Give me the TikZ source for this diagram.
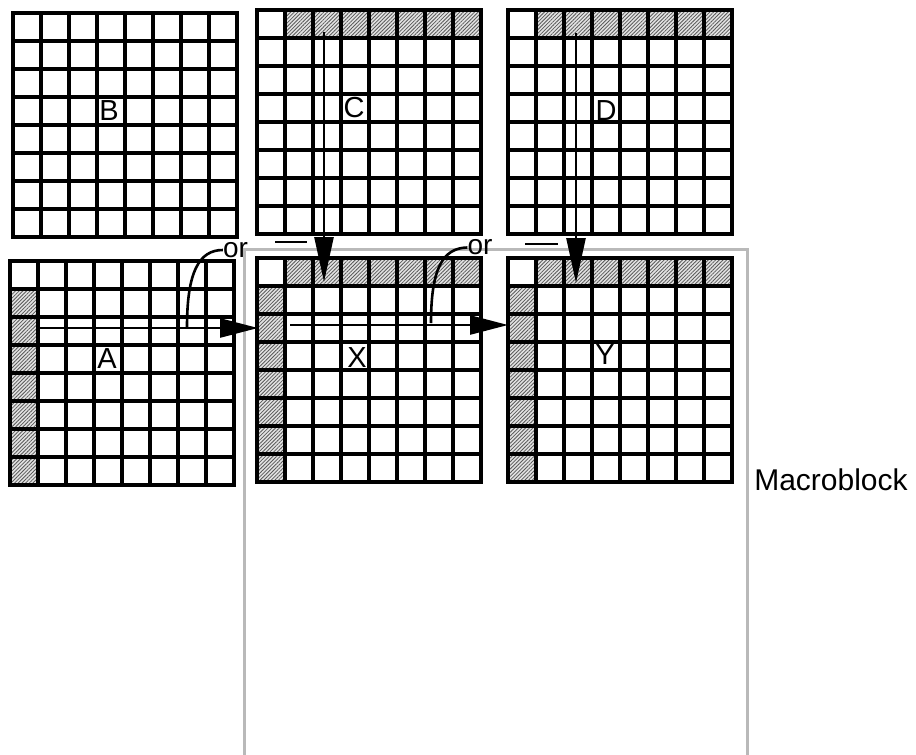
\documentclass[tikz,border=0pt]{standalone}
\usepackage{fontspec}
\setmainfont{Liberation Sans}
\usetikzlibrary{arrows.meta,patterns.meta}
\tikzset{
  gl/.style={line width=3.6pt,line cap=rect,black},
  hatch/.style={pattern={Lines[angle=45,distance=2.6pt,line width=0.8pt]},pattern color=black!65},
  hatchbg/.style={fill=gray!22},
  mbline/.style={line width=3pt,gray!55},
  conn/.style={line width=2.6pt,black},
  varr/.style={conn,-{Triangle[length=45pt,width=19pt]}},
  harr/.style={conn,-{Triangle[length=38pt,width=19pt]}},
  lbl/.style={inner sep=0pt,font=\fontsize{29}{30}\selectfont},
  orlbl/.style={inner sep=0pt,font=\fontsize{28}{29}\selectfont},
}
\newcommand{\blkgrid}[2]{%
  \foreach \i in {0,...,8}{%
    \draw[gl] (#1+28*\i,#2) -- (#1+28*\i,#2+224);
    \draw[gl] (#1,#2+28*\i) -- (#1+224,#2+28*\i);
  }}
\newcommand{\toprowhatch}[2]{%
  \fill[hatchbg] (#1+28,#2) rectangle (#1+224,#2+28);
  \fill[hatch] (#1+28,#2) rectangle (#1+224,#2+28);}
\newcommand{\leftcolhatch}[2]{%
  \fill[hatchbg] (#1,#2+28) rectangle (#1+28,#2+224);
  \fill[hatch] (#1,#2+28) rectangle (#1+28,#2+224);}
\begin{document}
\begin{tikzpicture}[x=1pt,y=-1pt]
\useasboundingbox (0,0) rectangle (916,755);
\fill[white] (0,0) rectangle (916,755);
% macroblock outline
\coordinate (mbbl) at (244,755);
\coordinate (mbtl) at (244,249);
\coordinate (mbtr) at (747,249);
\coordinate (mbbr) at (747,755);
\draw[mbline] (mbbl) -- (mbtl) -- (mbtr) -- (mbbr);
% hatched cells
\toprowhatch{257}{10}
\toprowhatch{508}{10}
\toprowhatch{257}{258}
\leftcolhatch{257}{258}
\toprowhatch{508}{258}
\leftcolhatch{508}{258}
\leftcolhatch{10}{261}
% grids
\blkgrid{13}{13}
\blkgrid{257}{10}
\blkgrid{508}{10}
\blkgrid{10}{261}
\blkgrid{257}{258}
\blkgrid{508}{258}
% labels
\node[lbl] (B) at (109,110.5) {B};
\node[lbl] (C) at (354,108) {C};
\node[lbl] (D) at (606,110.5) {D};
\node[lbl] (A) at (107,359) {A};
\node[lbl] (X) at (357,358) {X};
\node[lbl] (Y) at (605,355) {Y};
\node[inner sep=0pt,font=\fontsize{30}{31}\selectfont] (mb) at (831,479.5) {Macroblock};
\node[orlbl] (or1) at (235.5,250) {or};
\node[orlbl] (or2) at (480,247.5) {or};
% connectors
\coordinate (v1s) at (324,32);
\coordinate (v1e) at (324,282);
\coordinate (v2s) at (576,33);
\coordinate (v2e) at (576,283);
\coordinate (h1s) at (40,328);
\coordinate (h1e) at (258,328);
\coordinate (h2s) at (290,325);
\coordinate (h2e) at (508,325);
\draw[varr] (v1s) -- (v1e);
\draw[varr] (v2s) -- (v2e);
\draw[harr] (h1s) -- (h1e);
\draw[harr] (h2s) -- (h2e);
\coordinate (c1s) at (187,327);
\coordinate (c2s) at (431,323);
\draw[conn] (c1s) .. controls (187,272) and (199,250) .. (or1.west);
\draw[conn] (c2s) .. controls (431,268) and (443,248) .. (or2.west);
% dashes
\coordinate (d1a) at (275,242);
\coordinate (d1b) at (307,242);
\coordinate (d2a) at (525,244);
\coordinate (d2b) at (558,244);
\draw[conn] (d1a) -- (d1b);
\draw[conn] (d2a) -- (d2b);
\end{tikzpicture}
\end{document}
